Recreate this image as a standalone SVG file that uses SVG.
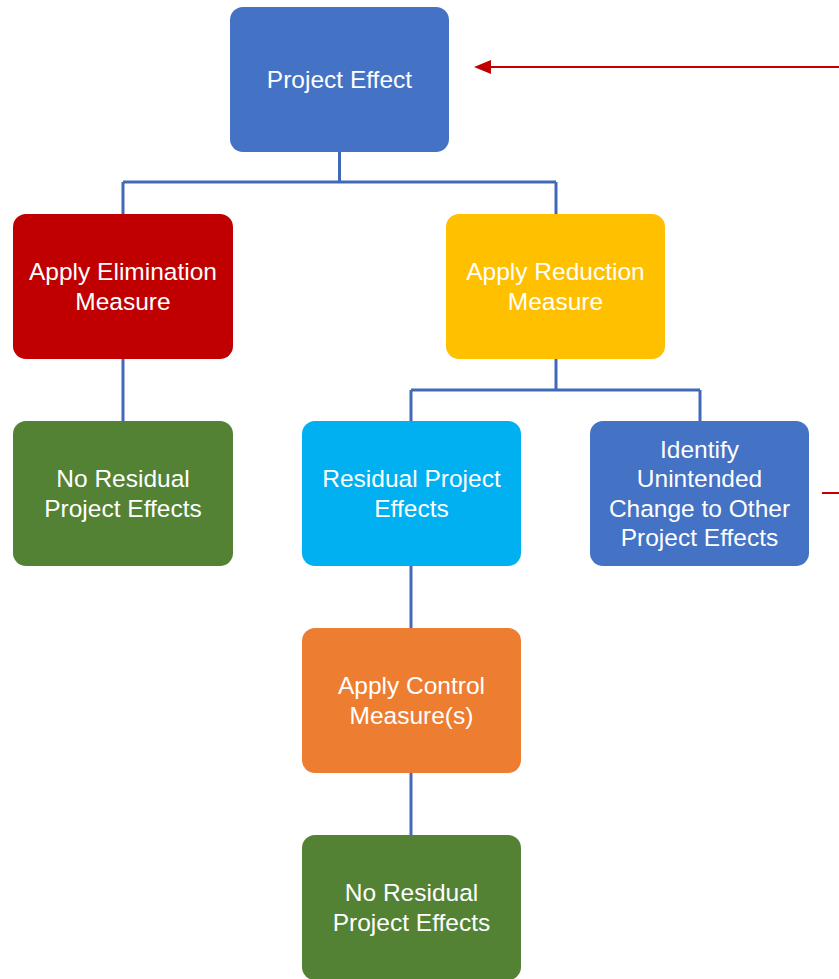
<svg xmlns="http://www.w3.org/2000/svg" width="839" height="979" viewBox="0 0 839 979">
<defs>
<style>
.box{stroke:none}
.t{font-family:"Liberation Sans",Arial,sans-serif;font-size:24.5px;fill:#fff;text-anchor:middle}
.c{stroke:#4169B8;stroke-width:3;fill:none}
.r{stroke:#C00000;stroke-width:2;fill:none}
</style>
</defs>
<rect width="839" height="979" fill="#fff"/>
<g id="connectors">
<path class="c" d="M339.5,152 V182 M123,182 H556 M123,182 V214 M556,182 V214"/>
<path class="c" d="M123,359 V421"/>
<path class="c" d="M556,359 V390 M411,390 H700 M411,390 V421 M700,390 V421"/>
<path class="c" d="M411,566 V628"/>
<path class="c" d="M411,773 V835"/>
<path class="r" d="M839,67 H490"/>
<path d="M491,60 L474,67 L491,74 z" fill="#C00000"/>
<path class="r" d="M822,493 H839"/>
</g>
<g id="project-effect">
<rect class="box" x="230" y="7" width="219" height="145" rx="13" fill="#4472C4"/>
<text class="t" x="339.5" y="87.5">Project Effect</text>
</g>
<g id="apply-elimination">
<rect class="box" x="13" y="214" width="220" height="145" rx="13" fill="#C00000"/>
<text class="t" x="123" y="279.5">Apply Elimination</text>
<text class="t" x="123" y="309.5">Measure</text>
</g>
<g id="apply-reduction">
<rect class="box" x="446" y="214" width="219" height="145" rx="13" fill="#FFC000"/>
<text class="t" x="555.5" y="279.5">Apply Reduction</text>
<text class="t" x="555.5" y="309.5">Measure</text>
</g>
<g id="no-residual-left">
<rect class="box" x="13" y="421" width="220" height="145" rx="13" fill="#548235"/>
<text class="t" x="123" y="486.5">No Residual</text>
<text class="t" x="123" y="516.5">Project Effects</text>
</g>
<g id="residual-project-effects">
<rect class="box" x="302" y="421" width="219" height="145" rx="13" fill="#00B0F0"/>
<text class="t" x="411.5" y="486.5">Residual Project</text>
<text class="t" x="411.5" y="516.5">Effects</text>
</g>
<g id="identify-unintended">
<rect class="box" x="590" y="421" width="219" height="145" rx="13" fill="#4472C4"/>
<text class="t" x="699.5" y="457.5">Identify</text>
<text class="t" x="699.5" y="486.5">Unintended</text>
<text class="t" x="699.5" y="516.5">Change to Other</text>
<text class="t" x="699.5" y="545.5">Project Effects</text>
</g>
<g id="apply-control">
<rect class="box" x="302" y="628" width="219" height="145" rx="13" fill="#ED7D31"/>
<text class="t" x="411.5" y="693.5">Apply Control</text>
<text class="t" x="411.5" y="723.5">Measure(s)</text>
</g>
<g id="no-residual-bottom">
<rect class="box" x="302" y="835" width="219" height="145" rx="13" fill="#548235"/>
<text class="t" x="411.5" y="900.5">No Residual</text>
<text class="t" x="411.5" y="930.5">Project Effects</text>
</g>
</svg>
